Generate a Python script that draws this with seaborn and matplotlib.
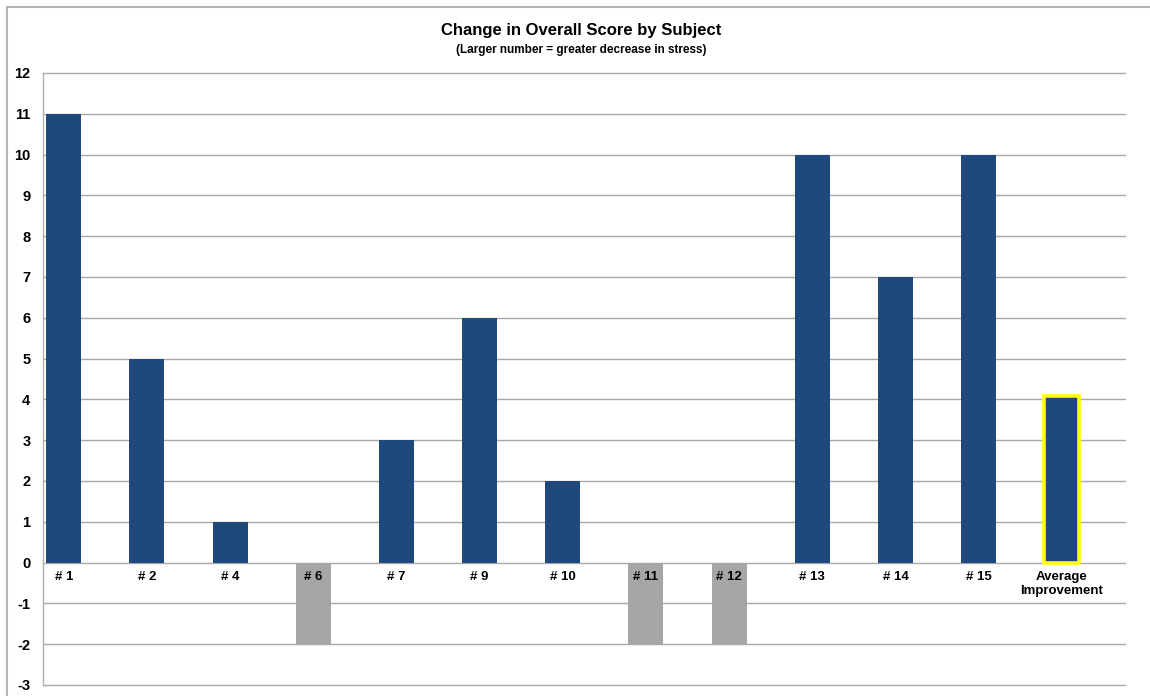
import matplotlib
matplotlib.use("Agg")
import matplotlib.pyplot as plt
import seaborn as sns
import pandas as pd
from matplotlib.patches import Rectangle

subjects = ["# 1", "# 2", "# 4", "# 6", "# 7", "# 9", "# 10", "# 11", "# 12",
            "# 13", "# 14", "# 15", "Average\nImprovement"]
scores = [11, 5, 1, -2, 3, 6, 2, -2, -2, 10, 7, 10, 4.08]
bar_colors = ["#1F497D", "#1F497D", "#1F497D", "#A6A6A6", "#1F497D", "#1F497D",
              "#1F497D", "#A6A6A6", "#A6A6A6", "#1F497D", "#1F497D", "#1F497D",
              "#1F497D"]
y_ticks = list(range(-3, 13))

sns.set_theme(style="white")
plt.rcParams["font.family"] = ["Liberation Sans", "DejaVu Sans"]

W, H = 1150, 696
fig = plt.figure(figsize=(W / 100, H / 100), dpi=100)
ax = fig.add_axes([43 / W, (H - 685) / H, (1125 - 43) / W, (685 - 73) / H])

df = pd.DataFrame({"subject": subjects, "score": scores})
sns.barplot(data=df, x="subject", y="score", hue="subject", palette=bar_colors,
            order=subjects, hue_order=subjects, legend=False, width=0.42,
            saturation=1, ax=ax, zorder=3, edgecolor="none", linewidth=0)

# highlight average bar
last = ax.patches[-1]
last.set_edgecolor("#FFFF00")
last.set_linewidth(2.6)

ax.set_ylim(-3, 12)
ax.set_xlim(-0.25, 12.76)
ax.set_yticks(y_ticks)
ax.set_yticklabels([str(v) for v in y_ticks], fontsize=10.5, fontweight="bold",
                   color="black")
ax.tick_params(axis="y", length=0, pad=9)
ax.set_xticks([])
ax.set_xlabel("")
ax.set_ylabel("")
ax.yaxis.grid(True, color="#A8A8A8", linewidth=1.0, zorder=0)
for gl in ax.get_ygridlines():
    gl.set_clip_on(False)
ax.set_axisbelow(True)
for s in ["top", "right", "bottom"]:
    ax.spines[s].set_visible(False)
ax.spines["left"].set_color("#B0B0B0")
ax.spines["left"].set_linewidth(1.0)

for i, lab in enumerate(subjects):
    ax.text(i, -0.2, lab, ha="center", va="top", fontsize=9.5, color="black",
            fontweight="bold", linespacing=1.2, zorder=5)

fig.text(0.505, 1 - 31 / H, "Change in Overall Score by Subject", ha="center",
         va="center", fontsize=12, fontweight="bold", color="black")
fig.text(0.505, 1 - 50 / H, "(Larger number = greater decrease in stress)",
         ha="center", va="center", fontsize=8.5, fontweight="bold", color="black")

# outer chart frame
fig.patches.append(Rectangle((7 / W, -0.1), 1.2, 1.1 - 7 / H,
                             transform=fig.transFigure, fill=False,
                             edgecolor="#B4B4B4", linewidth=1.5))

fig.savefig("out.png", dpi=100)
